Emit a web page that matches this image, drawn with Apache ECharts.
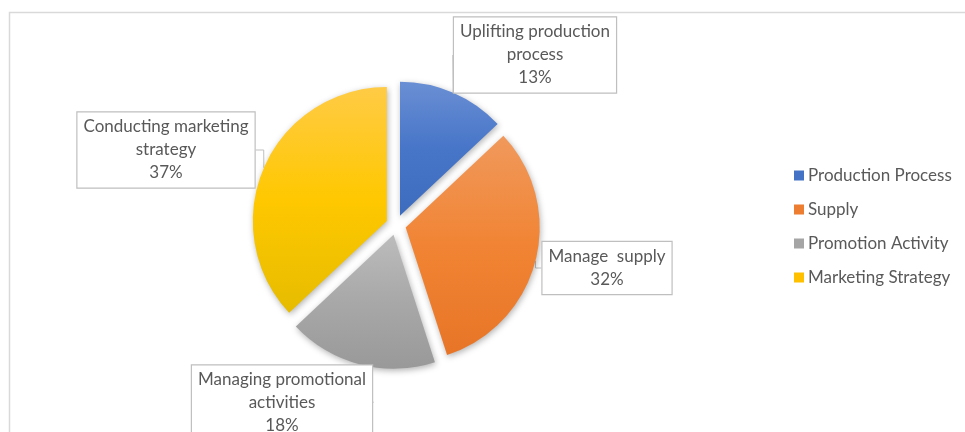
<!DOCTYPE html>
<html>
<head>
<meta charset="utf-8">
<script src="https://cdn.jsdelivr.net/npm/echarts@6/dist/echarts.min.js"></script>
<style>html,body{margin:0;padding:0;background:#fff}#c{width:965px;height:432px}</style>
</head>
<body>
<div id="c"></div>
<script>
const categories = ['Production Process', 'Supply', 'Promotion Activity', 'Marketing Strategy'];
const labelTitles = ['Uplifting production\nprocess', 'Manage  supply', 'Managing promotional\nactivities', 'Conducting marketing\nstrategy'];
const values = [13, 32, 18, 37];

const baseColors = ['#4472C4', '#ED7D31', '#A5A5A5', '#FFC000'];
const gradTop = ['#6A8FD4', '#F0995C', '#BCBCBC', '#FFCB45'];
const gradMid = ['#4775C8', '#F18434', '#A8A8A8', '#FFC800'];
const gradBot = ['#3D6BBE', '#E87527', '#999999', '#E6BC00'];
const labelPos = [[535, 55], [607, 268], [282, 403], [166, 150]];

const CX = 396, CY = 225, R = 134, EXPLODE = 10;
const FONT = 'Lato';

function grad(i) {
  return new echarts.graphic.LinearGradient(0, 0, 0, 1, [
    {offset: 0, color: gradTop[i]},
    {offset: 0.5, color: gradMid[i]},
    {offset: 1, color: gradBot[i]}
  ]);
}

const total = values.reduce((a, b) => a + b, 0);
let acc = 0;
const midAngles = values.map(v => { const m = (acc + v / 2) / total * 2 * Math.PI; acc += v; return m; });

const series = values.map((_, k) => ({
  type: 'pie',
  name: 'slice' + k,
  center: [CX + EXPLODE * Math.sin(midAngles[k]), CY - EXPLODE * Math.cos(midAngles[k])],
  radius: R,
  startAngle: 90,
  clockwise: true,
  avoidLabelOverlap: false,
  silent: true,
  emphasis: {disabled: true},
  z: k === 0 ? 3 : 2,
  data: values.map((v, i) => ({
    name: categories[i],
    value: v,
    itemStyle: i === k
      ? {color: grad(i), shadowBlur: 6, shadowColor: 'rgba(0,0,0,0.3)', shadowOffsetX: 1, shadowOffsetY: 2}
      : {color: 'rgba(0,0,0,0)', shadowBlur: 0},
    label: i === k ? {show: true, formatter: labelTitles[i] + '\n' + v + '%'} : {show: false},
    labelLine: {show: i === k}
  })),
  label: {
    position: 'outside',
    fontFamily: FONT,
    fontSize: 17,
    color: '#595959',
    lineHeight: 23,
    align: 'center',
    backgroundColor: '#fff',
    borderColor: '#bfbfbf',
    borderWidth: 1.2,
    padding: [3, 6, 3, 6]
  },
  labelLine: {length: 8, length2: 8, lineStyle: {color: '#bfbfbf', width: 1}},
  labelLayout: function (p) {
    const pos = labelPos[p.dataIndex];
    return {x: pos[0], y: pos[1], align: 'center', verticalAlign: 'middle'};
  }
}));

const chart = echarts.init(document.getElementById('c'), null, {renderer: 'canvas'});
chart.setOption({
  animation: false,
  graphic: [{
    type: 'rect', left: 7, top: 10, silent: true,
    shape: {width: 1000, height: 500},
    style: {fill: 'none', stroke: '#d9d9d9', lineWidth: 1.5}
  }],
  legend: {
    orient: 'vertical',
    left: 789, top: 162,
    itemWidth: 10, itemHeight: 10, itemGap: 17,
    icon: 'rect',
    textStyle: {fontFamily: FONT, fontSize: 17, color: '#595959', padding: [0, 0, 0, -1]},
    data: categories.map((n, i) => ({name: n, itemStyle: {color: baseColors[i]}}))
  },
  series: series
});
</script>
</body>
</html>
